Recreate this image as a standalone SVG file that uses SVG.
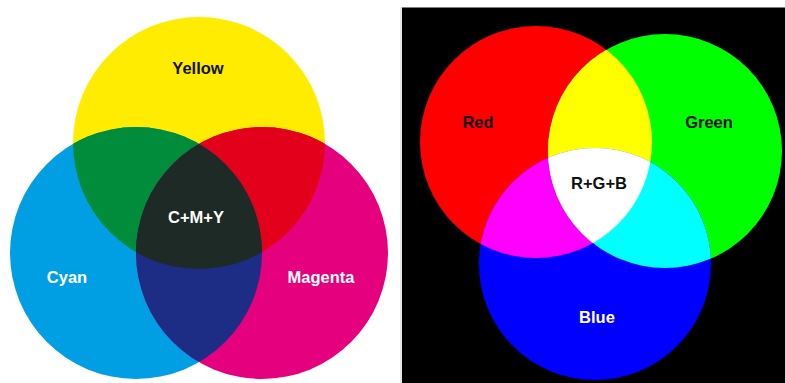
<svg xmlns="http://www.w3.org/2000/svg" width="785" height="383" viewBox="0 0 785 383">
<style>
text{font-family:"Liberation Sans",Arial,sans-serif;font-weight:bold;font-size:16.5px;text-anchor:middle}
.dk{fill:#111}
.wt{fill:#fff}
</style>
<defs>
<clipPath id="cY"><circle cx="199" cy="143" r="126"/></clipPath>
<clipPath id="cC"><circle cx="136" cy="253" r="126"/></clipPath>
<clipPath id="cM"><circle cx="262" cy="253" r="126"/></clipPath>
<clipPath id="cR"><circle cx="536" cy="142" r="116"/></clipPath>
<clipPath id="cG"><circle cx="665" cy="151" r="117"/></clipPath>
<clipPath id="cB"><circle cx="595" cy="264" r="116"/></clipPath>
</defs>
<rect x="0" y="0" width="785" height="383" fill="#fff"/>

<g id="cmy">
<g id="yellow"><circle cx="199" cy="143" r="126" fill="#ffec00"/></g>
<g id="cyan"><circle cx="136" cy="253" r="126" fill="#009fe3"/></g>
<g id="magenta"><circle cx="262" cy="253" r="126" fill="#e5007e"/></g>
<g id="green-overlap" clip-path="url(#cY)"><circle cx="136" cy="253" r="126" fill="#008c3a"/></g>
<g id="red-overlap" clip-path="url(#cY)"><circle cx="262" cy="253" r="126" fill="#e2001a"/></g>
<g id="blue-overlap" clip-path="url(#cC)"><circle cx="262" cy="253" r="126" fill="#1d2d86"/></g>
<g id="cmy-center" clip-path="url(#cY)"><g clip-path="url(#cC)"><circle cx="262" cy="253" r="126" fill="#1e2a25"/></g></g>
<text class="dk" x="198" y="74">Yellow</text>
<text class="wt" x="196" y="223">C+M+Y</text>
<text class="wt" x="67" y="283">Cyan</text>
<text class="wt" x="321" y="283">Magenta</text>
</g>

<line x1="401" y1="7" x2="401" y2="383" stroke="#cfcfcf" stroke-width="1"/>
<rect x="402" y="7.5" width="383" height="376" fill="#000"/>

<g id="rgb">
<g id="red"><circle cx="536" cy="142" r="116" fill="#ff0000"/></g>
<g id="green"><circle cx="665" cy="151" r="117" fill="#00ff00"/></g>
<g id="blue"><circle cx="595" cy="264" r="116" fill="#0000ff"/></g>
<g id="yellow-overlap" clip-path="url(#cR)"><circle cx="665" cy="151" r="117" fill="#ffff00"/></g>
<g id="magenta-overlap" clip-path="url(#cR)"><circle cx="595" cy="264" r="116" fill="#ff00ff"/></g>
<g id="cyan-overlap" clip-path="url(#cG)"><circle cx="595" cy="264" r="116" fill="#00ffff"/></g>
<g id="rgb-center" clip-path="url(#cR)"><g clip-path="url(#cG)"><circle cx="595" cy="264" r="116" fill="#ffffff"/></g></g>
<text class="dk" x="478" y="128">Red</text>
<text class="dk" x="709" y="128">Green</text>
<text class="dk" x="599" y="189">R+G+B</text>
<text class="wt" x="597" y="323">Blue</text>
</g>
</svg>
